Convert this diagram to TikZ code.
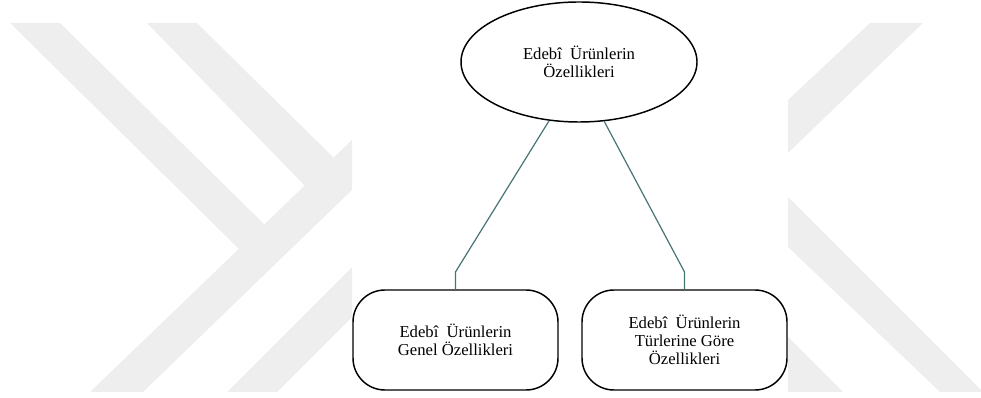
\documentclass[tikz,border=0pt]{standalone}
\usepackage{fontspec}
\setmainfont{Liberation Serif}
\usetikzlibrary{shapes.geometric}

\definecolor{linkteal}{RGB}{70,115,115}
\definecolor{markgray}{RGB}{238,238,238}

\begin{document}
\begin{tikzpicture}[
            x = 0.75pt, y = -0.75pt, % one unit = one pixel of the page
            line width = 0.9pt
        ]

        \tikzstyle{every node}=[
            align = center,
            font = \fontsize{12.5}{13.5}\selectfont
        ]
        \tikzstyle{topic}=[
            draw = black,
            line width = 1.1pt,
            ellipse,
            minimum width = 177pt,
            minimum height = 90pt
        ]
        \tikzstyle{branch}=[
            draw = black,
            line width = 1.1pt,
            rounded corners = 24pt,
            minimum width = 153.75pt,
            minimum height = 75pt
        ]
        \tikzstyle{link}=[
            draw = linkteal
        ]

        \useasboundingbox (0,0) rectangle (981,398);

        % watermark behind the chart
        \fill[markgray] (10,23) -- (60,23) -- (268,228) -- (240,250) -- cycle;
        \fill[markgray] (147,23) -- (197,23) -- (336,160) -- (305,186) -- cycle;
        \fill[markgray] (90,392) -- (143,392) -- (352,190) -- (352,140) -- cycle;
        \fill[markgray] (227,392) -- (277,392) -- (352,317) -- (352,267) -- cycle;
        \fill[markgray] (870,23) -- (923,23) -- (788,153) -- (788,100) -- cycle;
        \fill[markgray] (788,197) -- (981,390) -- (981,392) -- (940,392) -- (788,247) -- cycle;
        \fill[markgray] (788,337) -- (843,392) -- (788,392) -- cycle;

        \node[topic] (ozel) at (579,62) {Edebî~ Ürünlerin\\Özellikleri};
        \node[branch] (genel) at (455.5,340) {Edebî~ Ürünlerin\\Genel Özellikleri};
        \node[branch] (tur) at (684.5,340) {Edebî~ Ürünlerin\\Türlerine Göre\\Özellikleri};

        \path[link] (ozel.243) -- ([yshift=13pt]genel.north) -- (genel.north);
        \path[link] (ozel.293) -- ([yshift=13pt]tur.north) -- (tur.north);

\end{tikzpicture}
\end{document}
